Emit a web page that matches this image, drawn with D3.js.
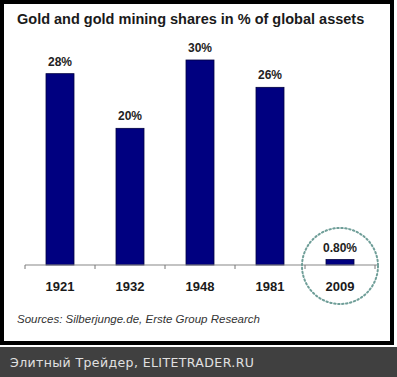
<!DOCTYPE html>
<html>
<head>
<meta charset="utf-8">
<script src="https://cdn.jsdelivr.net/npm/d3@7"></script>
<style>
  body { margin: 0; background: #fff; }
  svg { display: block; }
</style>
</head>
<body>
<script>
// Width and height
var w = 397;
var h = 377;

// Data
var years = ["1921", "1932", "1948", "1981", "2009"];
var shares = [28, 20, 30, 26, 0.8];
var shareLabels = ["28%", "20%", "30%", "26%", "0.80%"];

var svg = d3.select("body")
  .append("svg")
  .attr("width", w)
  .attr("height", h);

// Frame and footer band
svg.append("rect")
  .attr("x", 0).attr("y", 0)
  .attr("width", w).attr("height", h)
  .attr("fill", "#fff");
svg.append("rect")
  .attr("x", 2).attr("y", 2)
  .attr("width", 390).attr("height", 341)
  .attr("fill", "none")
  .attr("stroke", "#000")
  .attr("stroke-width", 4);
svg.append("rect")
  .attr("x", 0).attr("y", 347)
  .attr("width", w).attr("height", h - 347)
  .attr("fill", "#404040");
svg.append("text")
  .attr("x", 10).attr("y", 367)
  .attr("font-family", "DejaVu Sans, sans-serif")
  .attr("font-size", "12.5px")
  .attr("letter-spacing", "0.4px")
  .attr("fill", "#e0e0e0")
  .text("Элитный Трейдер, ELITETRADER.RU");

// Title
svg.append("text")
  .attr("x", 17).attr("y", 24)
  .attr("font-family", "Liberation Sans, Arial, sans-serif")
  .attr("font-weight", "bold")
  .attr("font-size", "14.5px")
  .attr("fill", "#1a1a1a")
  .text("Gold and gold mining shares in % of global assets");

// Scales
var xScale = d3.scaleBand()
  .domain(years)
  .range([25, 375])
  .paddingInner(0.6)
  .paddingOuter(0.3);

var yScale = d3.scaleLinear()
  .domain([0, 30])
  .range([265, 60]);

// Bars
svg.selectAll("rect.bar")
  .data(shares)
  .enter()
  .append("rect")
  .attr("class", "bar")
  .attr("x", function(d, i) { return xScale(years[i]); })
  .attr("y", function(d) { return yScale(d); })
  .attr("width", xScale.bandwidth())
  .attr("height", function(d) { return yScale(0) - yScale(d); })
  .attr("fill", "#000080")
  .attr("stroke", "#000040")
  .attr("stroke-width", 0.8);

// Value labels
svg.selectAll("text.val")
  .data(shares)
  .enter()
  .append("text")
  .attr("class", "val")
  .attr("x", function(d, i) { return xScale(years[i]) + xScale.bandwidth() / 2; })
  .attr("y", function(d) { return yScale(d) - 8; })
  .attr("text-anchor", "middle")
  .attr("font-family", "Liberation Sans, Arial, sans-serif")
  .attr("font-weight", "bold")
  .attr("font-size", "12px")
  .attr("fill", "#222")
  .text(function(d, i) { return shareLabels[i]; });

// X axis: line with ticks between categories
var step = xScale.step();
var gap = (step - xScale.bandwidth()) / 2;
var axisG = svg.append("g");
axisG.append("line")
  .attr("x1", 25).attr("x2", 377)
  .attr("y1", yScale(0)).attr("y2", yScale(0))
  .attr("stroke", "#888")
  .attr("stroke-width", 1.2);
axisG.selectAll("line.tick")
  .data(years.concat(["end"]))
  .enter()
  .append("line")
  .attr("class", "tick")
  .attr("x1", function(d, i) { return xScale(years[0]) - gap + step * i; })
  .attr("x2", function(d, i) { return xScale(years[0]) - gap + step * i; })
  .attr("y1", yScale(0))
  .attr("y2", yScale(0) + 4)
  .attr("stroke", "#777")
  .attr("stroke-width", 1);

axisG.selectAll("text.year")
  .data(years)
  .enter()
  .append("text")
  .attr("class", "year")
  .attr("x", function(d) { return xScale(d) + xScale.bandwidth() / 2; })
  .attr("y", yScale(0) + 26)
  .attr("text-anchor", "middle")
  .attr("font-family", "Liberation Sans, Arial, sans-serif")
  .attr("font-weight", "bold")
  .attr("font-size", "13px")
  .attr("fill", "#1a1a1a")
  .text(function(d) { return d; });

// Dotted highlight circle around 2009
var last = years[years.length - 1];
svg.append("circle")
  .attr("cx", xScale(last) + xScale.bandwidth() / 2)
  .attr("cy", yScale(0) + 1)
  .attr("r", 38)
  .attr("fill", "none")
  .attr("stroke", "#6f9e98")
  .attr("stroke-width", 2)
  .attr("stroke-dasharray", "1.5,2.5")
  .attr("stroke-linecap", "round");

// Sources
svg.append("text")
  .attr("x", 17).attr("y", 323)
  .attr("font-family", "Liberation Sans, Arial, sans-serif")
  .attr("font-style", "italic")
  .attr("font-size", "11.5px")
  .attr("fill", "#333")
  .text("Sources: Silberjunge.de, Erste Group Research");
</script>
</body>
</html>
